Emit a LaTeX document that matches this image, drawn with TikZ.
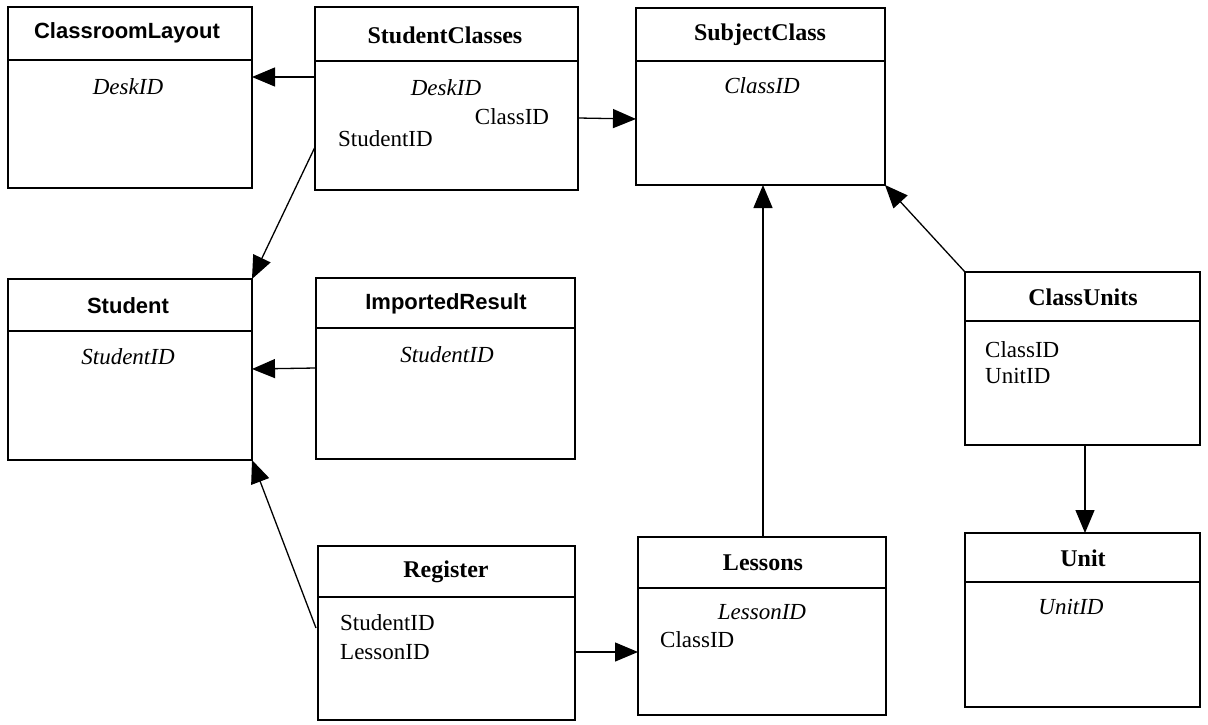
\documentclass[tikz,border=0pt]{standalone}
\usepackage{fontspec}
\setmainfont{Liberation Serif}
\setsansfont{Liberation Sans}
\usetikzlibrary{arrows.meta}
\begin{document}
\begin{tikzpicture}[x=1pt,y=-1pt,
  ent/.style={draw, line width=1.5pt, anchor=north west, inner sep=0pt, outer sep=0pt},
  sep/.style={line width=1.3pt},
  tsans/.style={font=\fontsize{22}{26}\selectfont\sffamily\bfseries, inner sep=0pt},
  tserif/.style={font=\fontsize{24}{28}\selectfont\bfseries, inner sep=0pt},
  key/.style={font=\fontsize{23}{27}\selectfont\itshape, inner sep=0pt},
  fld/.style={font=\fontsize{23}{27}\selectfont, inner sep=0pt, anchor=west},
  arr/.style={line width=1.3pt, -{Triangle[length=23pt,width=19pt]}}]
\useasboundingbox (0,0) rectangle (1208,725);

% entity boxes
\node[ent, minimum width=244pt, minimum height=181pt] (cl) at (8,7) {};
\node[ent, minimum width=263pt, minimum height=183pt] (sc) at (315,7) {};
\node[ent, minimum width=249pt, minimum height=177pt] (sub) at (636,8) {};
\node[ent, minimum width=244pt, minimum height=181pt] (st) at (8,279) {};
\node[ent, minimum width=259pt, minimum height=181pt] (ir) at (316,278) {};
\node[ent, minimum width=235pt, minimum height=173pt] (cu) at (965,272) {};
\node[ent, minimum width=257pt, minimum height=174pt] (reg) at (318,546) {};
\node[ent, minimum width=248pt, minimum height=178pt] (les) at (638,537) {};
\node[ent, minimum width=235pt, minimum height=174pt] (un) at (965,533) {};

% header separators
\draw[sep] ([yshift=-53pt]cl.north west) -- ([yshift=-53pt]cl.north east);
\draw[sep] ([yshift=-54pt]sc.north west) -- ([yshift=-54pt]sc.north east);
\draw[sep] ([yshift=-53pt]sub.north west) -- ([yshift=-53pt]sub.north east);
\draw[sep] ([yshift=-52pt]st.north west) -- ([yshift=-52pt]st.north east);
\draw[sep] ([yshift=-50pt]ir.north west) -- ([yshift=-50pt]ir.north east);
\draw[sep] ([yshift=-49pt]cu.north west) -- ([yshift=-49pt]cu.north east);
\draw[sep] ([yshift=-51pt]reg.north west) -- ([yshift=-51pt]reg.north east);
\draw[sep] ([yshift=-51pt]les.north west) -- ([yshift=-51pt]les.north east);
\draw[sep] ([yshift=-49pt]un.north west) -- ([yshift=-49pt]un.north east);

% titles
\node[tsans] (clT) at (127,33) {ClassroomLayout};
\node[tserif] (scT) at (445,35) {StudentClasses};
\node[tserif] (subT) at (760,35) {SubjectClass};
\node[tsans] (stT) at (128,306) {Student};
\node[tsans] (irT) at (446,304) {ImportedResult};
\node[tserif] (cuT) at (1083,297) {ClassUnits};
\node[tserif] (regT) at (446,572) {Register};
\node[tserif] (lesT) at (763,563) {Lessons};
\node[tserif] (unT) at (1083,558) {Unit};

% attributes
\node[key] (clA) at (128,87) {DeskID};
\node[key] (scA) at (446,88) {DeskID};
\node[font=\fontsize{23}{27}\selectfont, inner sep=0pt] (scB) at (512,117) {ClassID};
\node[fld] (scC) at (338,139) {StudentID};
\node[key] (subA) at (762,86) {ClassID};
\node[key] (stA) at (128,357) {StudentID};
\node[key] (irA) at (447,355) {StudentID};
\node[fld] (cuA) at (985,350) {ClassID};
\node[fld] (cuB) at (985,376) {UnitID};
\node[fld] (regA) at (340,623) {StudentID};
\node[fld] (regB) at (340,652) {LessonID};
\node[key] (lesA) at (762,612) {LessonID};
\node[fld] (lesB) at (660,640) {ClassID};
\node[key] (unA) at (1071,607) {UnitID};

% relationships
\draw[arr] ([yshift=-70pt]sc.north west) -- ([yshift=-70pt]cl.north east);
\draw[arr] ([yshift=-111pt]sc.north east) -- ([yshift=-111pt]sub.north west);
\draw[arr] ([yshift=-140pt]sc.north west) -- (st.north east);
\draw[arr] ([yshift=-90pt]ir.north west) -- ([yshift=-90pt]st.north east);
\draw[arr] ([xshift=-2pt,yshift=-82pt]reg.north west) -- (st.south east);
\draw[arr] ([yshift=-106pt]reg.north east) -- ([yshift=-115pt]les.north west);
\draw[arr] ([xshift=125pt]les.north west) -- ([xshift=127pt]sub.south west);
\draw[arr] (cu.north west) -- (sub.south east);
\draw[arr] ([xshift=120pt]cu.south west) -- ([xshift=120pt]un.north west);
\end{tikzpicture}
\end{document}
